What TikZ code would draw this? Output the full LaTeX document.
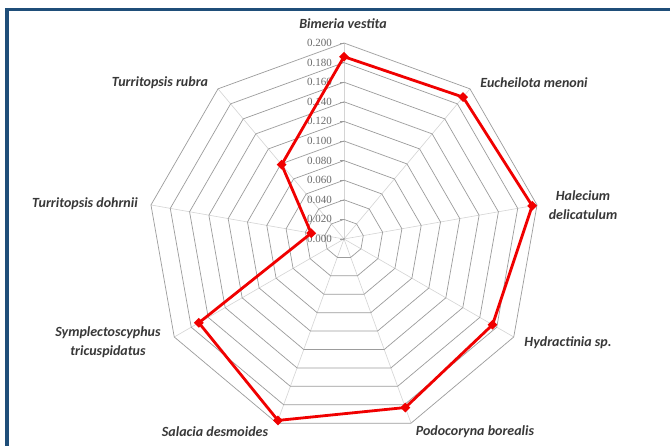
\documentclass[tikz,border=0pt]{standalone}
\usepackage{fontspec}
\setmainfont{Liberation Serif}
\newfontfamily\labfont{Carlito}
\usetikzlibrary{shapes.geometric}
\definecolor{frameblue}{HTML}{1F4E79}
\definecolor{ringgray}{HTML}{9C9C9C}
\definecolor{spokegray}{HTML}{D4D4D4}
\definecolor{seriesred}{HTML}{F00000}
\definecolor{labgray}{HTML}{383838}
\definecolor{valgray}{HTML}{6A6A6A}
\begin{document}
\begin{tikzpicture}[x=1pt,y=1pt,
        ring/.style={draw=ringgray,line width=.7pt},
        spoke/.style={draw=spokegray,line width=.6pt},
        serie/.style={draw=seriesred,line width=2.8pt,line join=round},
        datapt/.style={diamond,fill=seriesred,inner sep=0pt,minimum size=10pt},
        ticklab/.style={anchor=east,inner sep=0pt,text=valgray,font=\fontsize{11}{12}\selectfont},
        spec/.style={text=labgray,align=center,inner sep=0pt,font=\labfont\bfseries\itshape\fontsize{14}{19}\selectfont}]
    % page and frame
    \fill[white] (-344,-207) rectangle (326,239);
    \useasboundingbox (-344,-207) rectangle (326,239);
    \fill[frameblue] (-339,-207) rectangle (-335,231);
    \fill[frameblue] (-339,228) rectangle (326,231);
    % grid
    \foreach \a in {90,50,...,-230}
        \draw[spoke] (0,0) -- (\a:196);
    \foreach \k in {1,...,10}
        \draw[ring] (90:\k*19.6) \foreach \a in {50,10,...,-230} { -- (\a:\k*19.6) } -- cycle;
    \fill[ringgray] (0,0) circle (1pt);
    % value axis
    \foreach \v [count=\k from 0] in {0.000,0.020,0.040,0.060,0.080,0.100,0.120,0.140,0.160,0.180,0.200} {
        \draw[ringgray] (-4,\k*19.6) -- (0,\k*19.6);
        \node[ticklab] (v\k) at (-12,\k*19.6) {\v};
    }
    % series
    \foreach \v [count=\i] in {0.186,0.189,0.195,0.175,0.183,0.197,0.171,0.034,0.099}
        \coordinate (p\i) at ({130-40*\i}:\v*980);
    \draw[serie] (p1) -- (p2) -- (p3) -- (p4) -- (p5) -- (p6) -- (p7) -- (p8) -- (p9) -- cycle;
    \foreach \i in {1,...,9}
        \node[datapt] (m\i) at (p\i) {};
    % species
    \node[spec] (bimeria) at (-1,215) {Bimeria vestita};
    \node[spec] (eucheilota) at (190,156) {Eucheilota menoni};
    \node[spec] (halecium) at (239,34) {Halecium\\delicatulum};
    \node[spec] (hydractinia) at (224,-104) {Hydractinia sp.};
    \node[spec] (podocoryna) at (131,-193) {Podocoryna borealis};
    \node[spec] (salacia) at (-129,-193) {Salacia desmoides};
    \node[spec] (symplecto) at (-236,-103) {Symplectoscyphus\\tricuspidatus};
    \node[spec] (dohrnii) at (-259,35) {Turritopsis dohrnii};
    \node[spec] (rubra) at (-184,156) {Turritopsis rubra};
\end{tikzpicture}
\end{document}
